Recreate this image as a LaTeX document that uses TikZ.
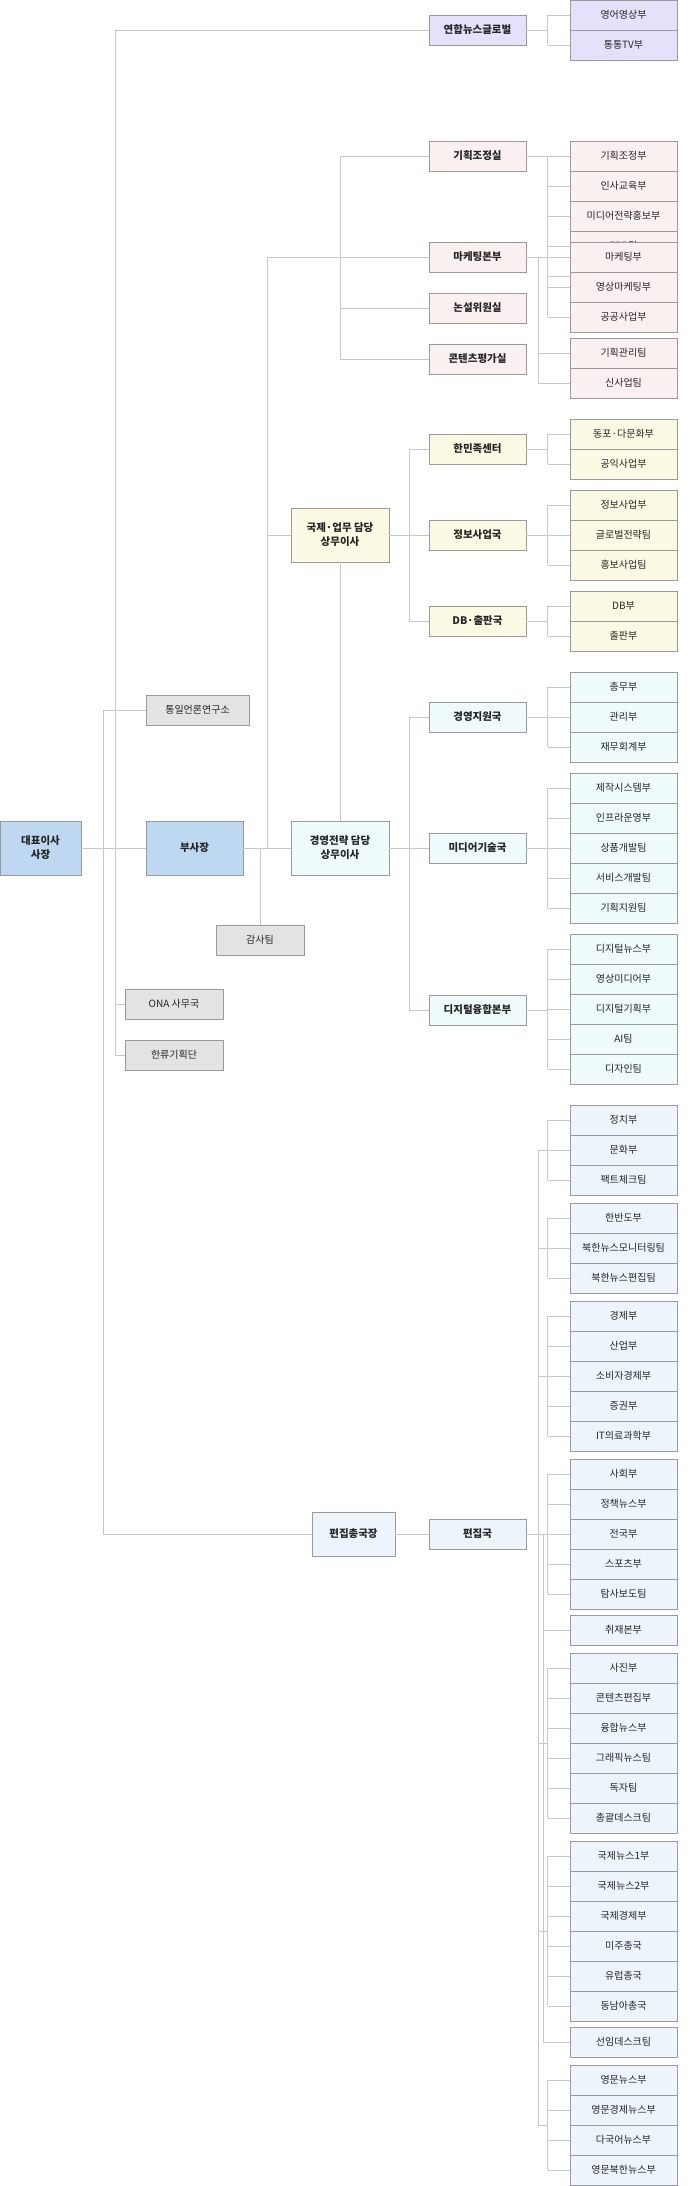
\documentclass[tikz,border=0pt]{standalone}
\usepackage{fontspec}
\setmainfont{Noto Sans CJK KR}
\definecolor{ln}{HTML}{C8C8C8}
\definecolor{bd}{HTML}{9A9A9A}
\definecolor{cpur}{HTML}{E6E0FA}
\definecolor{cpink}{HTML}{FBF0F0}
\definecolor{cyel}{HTML}{FBF9E4}
\definecolor{ccyan}{HTML}{EEFAFC}
\definecolor{cblue}{HTML}{BFD8F2}
\definecolor{cgray}{HTML}{E3E3E3}
\definecolor{cedit}{HTML}{EDF4FC}
\tikzset{
 box/.style={draw=bd,line width=0.9pt,inner sep=0pt,align=center,text=black!85},
 rbox/.style={box,minimum width=107pt,minimum height=30pt,font=\fontsize{10}{12}\selectfont},
 mbox/.style={box,minimum width=97pt,minimum height=30pt,font=\fontsize{10.5}{12}\selectfont\bfseries},
 ebox/.style={box,minimum width=98pt,minimum height=54pt,font=\fontsize{10.5}{14}\selectfont\bfseries},
 gbox/.style={box,fill=cgray,minimum height=30pt,font=\fontsize{10}{12}\selectfont},
 conn/.style={draw=ln,line width=0.9pt}
}
\newcommand\rcol[5]{%
 \foreach \t [count=\i] in {#4} {\node[rbox,fill=#3] (#1\i) at (623.5,{#2+15+30*(\i-1)}) {\t};
   \draw[conn] (#1\i.west) -- ++(-22,0) coordinate (#1t\i);}
 \draw[conn] (#1t1) -- (#1t#5);}
\begin{document}
\begin{tikzpicture}[x=1pt,y=-1pt]
\useasboundingbox (0,0) rectangle (689,2186);
% right columns
\rcol{a}{0}{cpur}{영어영상부,통통TV부}{2}
\rcol{b}{141}{cpink}{기획조정부,인사교육부,미디어전략홍보부,ERP팀,비서팀}{5}
\rcol{c}{242}{cpink}{마케팅부,영상마케팅부,공공사업부}{3}
\node[rbox,fill=cpink] (d1) at (623.5,353) {기획관리팀};
\node[rbox,fill=cpink] (d2) at (623.5,383) {신사업팀};
\rcol{e}{419}{cyel}{동포·다문화부,공익사업부}{2}
\rcol{f}{490}{cyel}{정보사업부,글로벌전략팀,홍보사업팀}{3}
\rcol{g}{591}{cyel}{DB부,출판부}{2}
\rcol{h}{672}{ccyan}{총무부,관리부,재무회계부}{3}
\rcol{i}{773}{ccyan}{제작시스템부,인프라운영부,상품개발팀,서비스개발팀,기획지원팀}{5}
\rcol{j}{934}{ccyan}{디지털뉴스부,영상미디어부,디지털기획부,AI팀,디자인팀}{5}
\rcol{k}{1105}{cedit}{정치부,문화부,팩트체크팀}{3}
\rcol{l}{1203}{cedit}{한반도부,북한뉴스모니터링팀,북한뉴스편집팀}{3}
\rcol{m}{1301}{cedit}{경제부,산업부,소비자경제부,증권부,IT의료과학부}{5}
\rcol{n}{1459}{cedit}{사회부,정책뉴스부,전국부,스포츠부,탐사보도팀}{5}
\node[rbox,fill=cedit] (o1) at (623.5,1630) {취재본부};
\rcol{p}{1653}{cedit}{사진부,콘텐츠편집부,융합뉴스부,그래픽뉴스팀,독자팀,총괄데스크팀}{6}
\rcol{q}{1841}{cedit}{국제뉴스1부,국제뉴스2부,국제경제부,미주총국,유럽총국,동남아총국}{6}
\node[rbox,fill=cedit] (r1) at (623.5,2042) {선임데스크팀};
\rcol{s}{2065}{cedit}{영문뉴스부,영문경제뉴스부,다국어뉴스부,영문북한뉴스부}{4}
% middle boxes
\node[mbox,fill=cpur] (M1) at (477.5,30) {연합뉴스글로벌};
\node[mbox,fill=cpink] (M2) at (477.5,156) {기획조정실};
\node[mbox,fill=cpink] (M3) at (477.5,257) {마케팅본부};
\node[mbox,fill=cpink] (M4) at (477.5,308) {논설위원실};
\node[mbox,fill=cpink] (M5) at (477.5,359) {콘텐츠평가실};
\node[mbox,fill=cyel] (M6) at (477.5,449) {한민족센터};
\node[mbox,fill=cyel] (M7) at (477.5,535) {정보사업국};
\node[mbox,fill=cyel] (M8) at (477.5,621) {DB·출판국};
\node[mbox,fill=ccyan] (M9) at (477.5,717) {경영지원국};
\node[mbox,fill=ccyan] (M10) at (477.5,848) {미디어기술국};
\node[mbox,fill=ccyan] (M11) at (477.5,1010) {디지털융합본부};
\node[mbox,fill=cedit] (M12) at (477.5,1534) {편집국};
% executives
\node[ebox,fill=cblue,minimum width=81pt] (ceo) at (40.5,848) {대표이사\\사장};
\node[ebox,fill=cblue,minimum width=97pt] (vp) at (194.5,848) {부사장};
\node[ebox,fill=ccyan] (strat) at (340,848) {경영전략 담당\\상무이사};
\node[ebox,fill=cyel] (intl) at (340,535) {국제·업무 담당\\상무이사};
\node[ebox,fill=cedit,minimum width=83pt,minimum height=44pt] (edit) at (353.5,1534) {편집총국장};
\node[gbox,minimum width=103pt] (uni) at (197.5,710) {통일언론연구소};
\node[gbox,minimum width=88pt] (audit) at (260,940) {감사팀};
\node[gbox,minimum width=98pt] (ona) at (174,1004) {ONA 사무국};
\node[gbox,minimum width=98pt] (hal) at (174,1055) {한류기획단};
% coordinates
\coordinate (x115a) at (115,30); \coordinate (x115b) at (115,1055);
\coordinate (x103a) at (103,710); \coordinate (x103b) at (103,1534);
\coordinate (x267a) at (267,257); \coordinate (x267b) at (267,848);
\coordinate (x260) at (260,848);
\coordinate (x340a) at (340,156); \coordinate (x340b) at (340,359);
\coordinate (x409a) at (409,449); \coordinate (x409b) at (409,621);
\coordinate (x409c) at (409,717); \coordinate (x409d) at (409,1010);
\coordinate (mk) at (538,257); \coordinate (mkb) at (538,383);
\coordinate (ea) at (538,1150); \coordinate (eb) at (538,2125);
\coordinate (sa) at (543,1534); \coordinate (sb) at (543,2042);
% left connectors
\draw[conn] (M1.west) -- (x115a) -- (x115b) -- (hal.west);
\draw[conn] (ona.west) -- (ona.west -| x115a);
\draw[conn] (uni.west) -- (x103a) -- (x103b) -- (edit.west);
\draw[conn] (ceo.east) -- (vp.west);
\draw[conn] (vp.east) -- (strat.west);
\draw[conn] (M3.west) -- (x267a) -- (x267b);
\draw[conn] (intl.west) -- (intl.west -| x267a);
\draw[conn] (x260) -- (audit.north);
\draw[conn] (intl.south) -- (strat.north);
\draw[conn] (x340a) -- (x340b);
\draw[conn] (M2.west) -- (x340a);
\draw[conn] (M4.west) -- (M4.west -| x340a);
\draw[conn] (M5.west) -- (x340b);
\draw[conn] (intl.east) -- (M7.west);
\draw[conn] (x409a) -- (x409b);
\draw[conn] (M6.west) -- (x409a); \draw[conn] (M8.west) -- (x409b);
\draw[conn] (strat.east) -- (M10.west);
\draw[conn] (x409c) -- (x409d);
\draw[conn] (M9.west) -- (x409c); \draw[conn] (M11.west) -- (x409d);
\draw[conn] (edit.east) -- (M12.west);
% middle to right
\foreach \m/\g in {M1/a,M2/b,M6/e,M7/f,M8/g,M9/h,M10/i,M11/j,M3/c,M12/n}
  \draw[conn] (\m.east) -- (\m.east -| at1);
\draw[conn] (mk) -- (mkb);
\draw[conn] (d1.west) -- (d1.west -| mk); \draw[conn] (d2.west) -- (mkb);
\draw[conn] (ea) -- (eb);
\foreach \y in {1150,1248,1376,1743,1931,2125} \draw[conn] (538,\y) -- (548,\y);
\draw[conn] (sa) -- (sb);
\draw[conn] (o1.west) -- (o1.west -| sa); \draw[conn] (r1.west) -- (sb);
\end{tikzpicture}
\end{document}
